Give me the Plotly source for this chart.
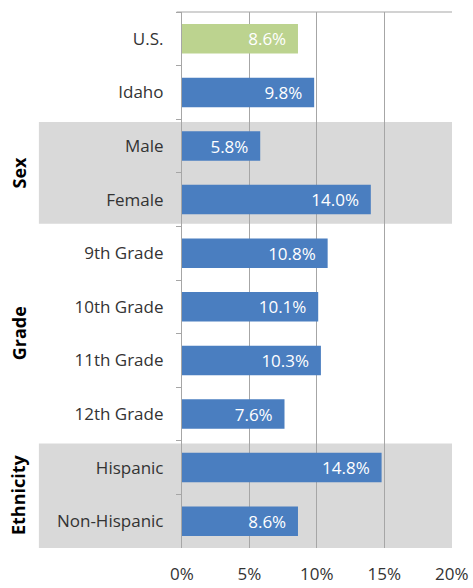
import plotly.graph_objects as go

# Category rows, top to bottom
categories = ["U.S.", "Idaho", "Male", "Female", "9th Grade", "10th Grade",
              "11th Grade", "12th Grade", "Hispanic", "Non-Hispanic"]
values = [8.6, 9.8, 5.8, 14.0, 10.8, 10.1, 10.3, 7.6, 14.8, 8.6]
bar_colors = ["#bcd38f"] + ["#4a7ec0"] * 9

# Grouping labels: (label, first row index, last row index, shaded)
groups = [("Sex", 2, 3, True), ("Grade", 4, 7, False), ("Ethnicity", 8, 9, True)]

x_ticks = [0, 5, 10, 15, 20]
x_tick_labels = [f"{t}%" for t in x_ticks]

FONT = "Open Sans"
TEXT_SIZE = 17
n = len(categories)

fig = go.Figure()
fig.add_trace(go.Bar(
    y=categories,
    x=values,
    orientation="h",
    marker=dict(color=bar_colors, line=dict(width=0)),
    text=[f"{v:.1f}%\u00a0\u00a0" for v in values],
    textposition="inside",
    insidetextanchor="end",
    textfont=dict(family=FONT, size=TEXT_SIZE, color="white"),
    cliponaxis=False,
    hoverinfo="skip",
))

shapes = []
annotations = []
for label, first, last, shaded in groups:
    top = 1 - first / n
    bottom = 1 - (last + 1) / n
    if shaded:
        shapes.append(dict(
            type="rect", xref="paper", yref="paper",
            x0=-0.53, x1=1.0,
            y0=bottom + (0.0 if last == n - 1 else 0.005), y1=top - 0.005,
            fillcolor="#d9d9d9", line=dict(width=0), layer="below",
        ))
    annotations.append(dict(
        text=f"<b>{label}</b>", xref="paper", yref="paper",
        x=-0.605, y=(top + bottom) / 2, textangle=-90, showarrow=False,
        font=dict(family=FONT, size=18, color="#000000"),
        xanchor="center", yanchor="middle",
    ))

# Thin rule along the top of the plot area
shapes.append(dict(type="line", xref="paper", yref="paper",
                   x0=-0.02, x1=1.0, y0=1.0, y1=1.0,
                   line=dict(color="#a6a6a6", width=1.2)))

fig.update_layout(
    width=473, height=588,
    margin=dict(l=182, r=21, t=12, b=40),
    paper_bgcolor="white",
    plot_bgcolor="rgba(0,0,0,0)",
    showlegend=False,
    bargap=0.45,
    shapes=shapes,
    annotations=annotations,
    font=dict(family=FONT, size=TEXT_SIZE, color="#333333"),
    xaxis=dict(
        range=[0, 20.02], tickmode="array", tickvals=x_ticks, ticktext=x_tick_labels,
        showgrid=True, gridcolor="#a6a6a6", gridwidth=1.2,
        zeroline=False, showline=False, automargin=False,
        ticks="", ticklabelstandoff=14,
        tickfont=dict(family=FONT, size=TEXT_SIZE, color="#333333"),
        fixedrange=True,
    ),
    yaxis=dict(
        autorange="reversed", type="category", automargin=False,
        showline=True, linecolor="#a6a6a6", linewidth=1.2,
        ticks="outside", tickson="boundaries", ticklen=5, tickcolor="#a6a6a6",
        ticklabelstandoff=14,
        tickfont=dict(family=FONT, size=TEXT_SIZE, color="#333333"),
        showgrid=False, fixedrange=True,
    ),
)

fig.write_html("out.html")
